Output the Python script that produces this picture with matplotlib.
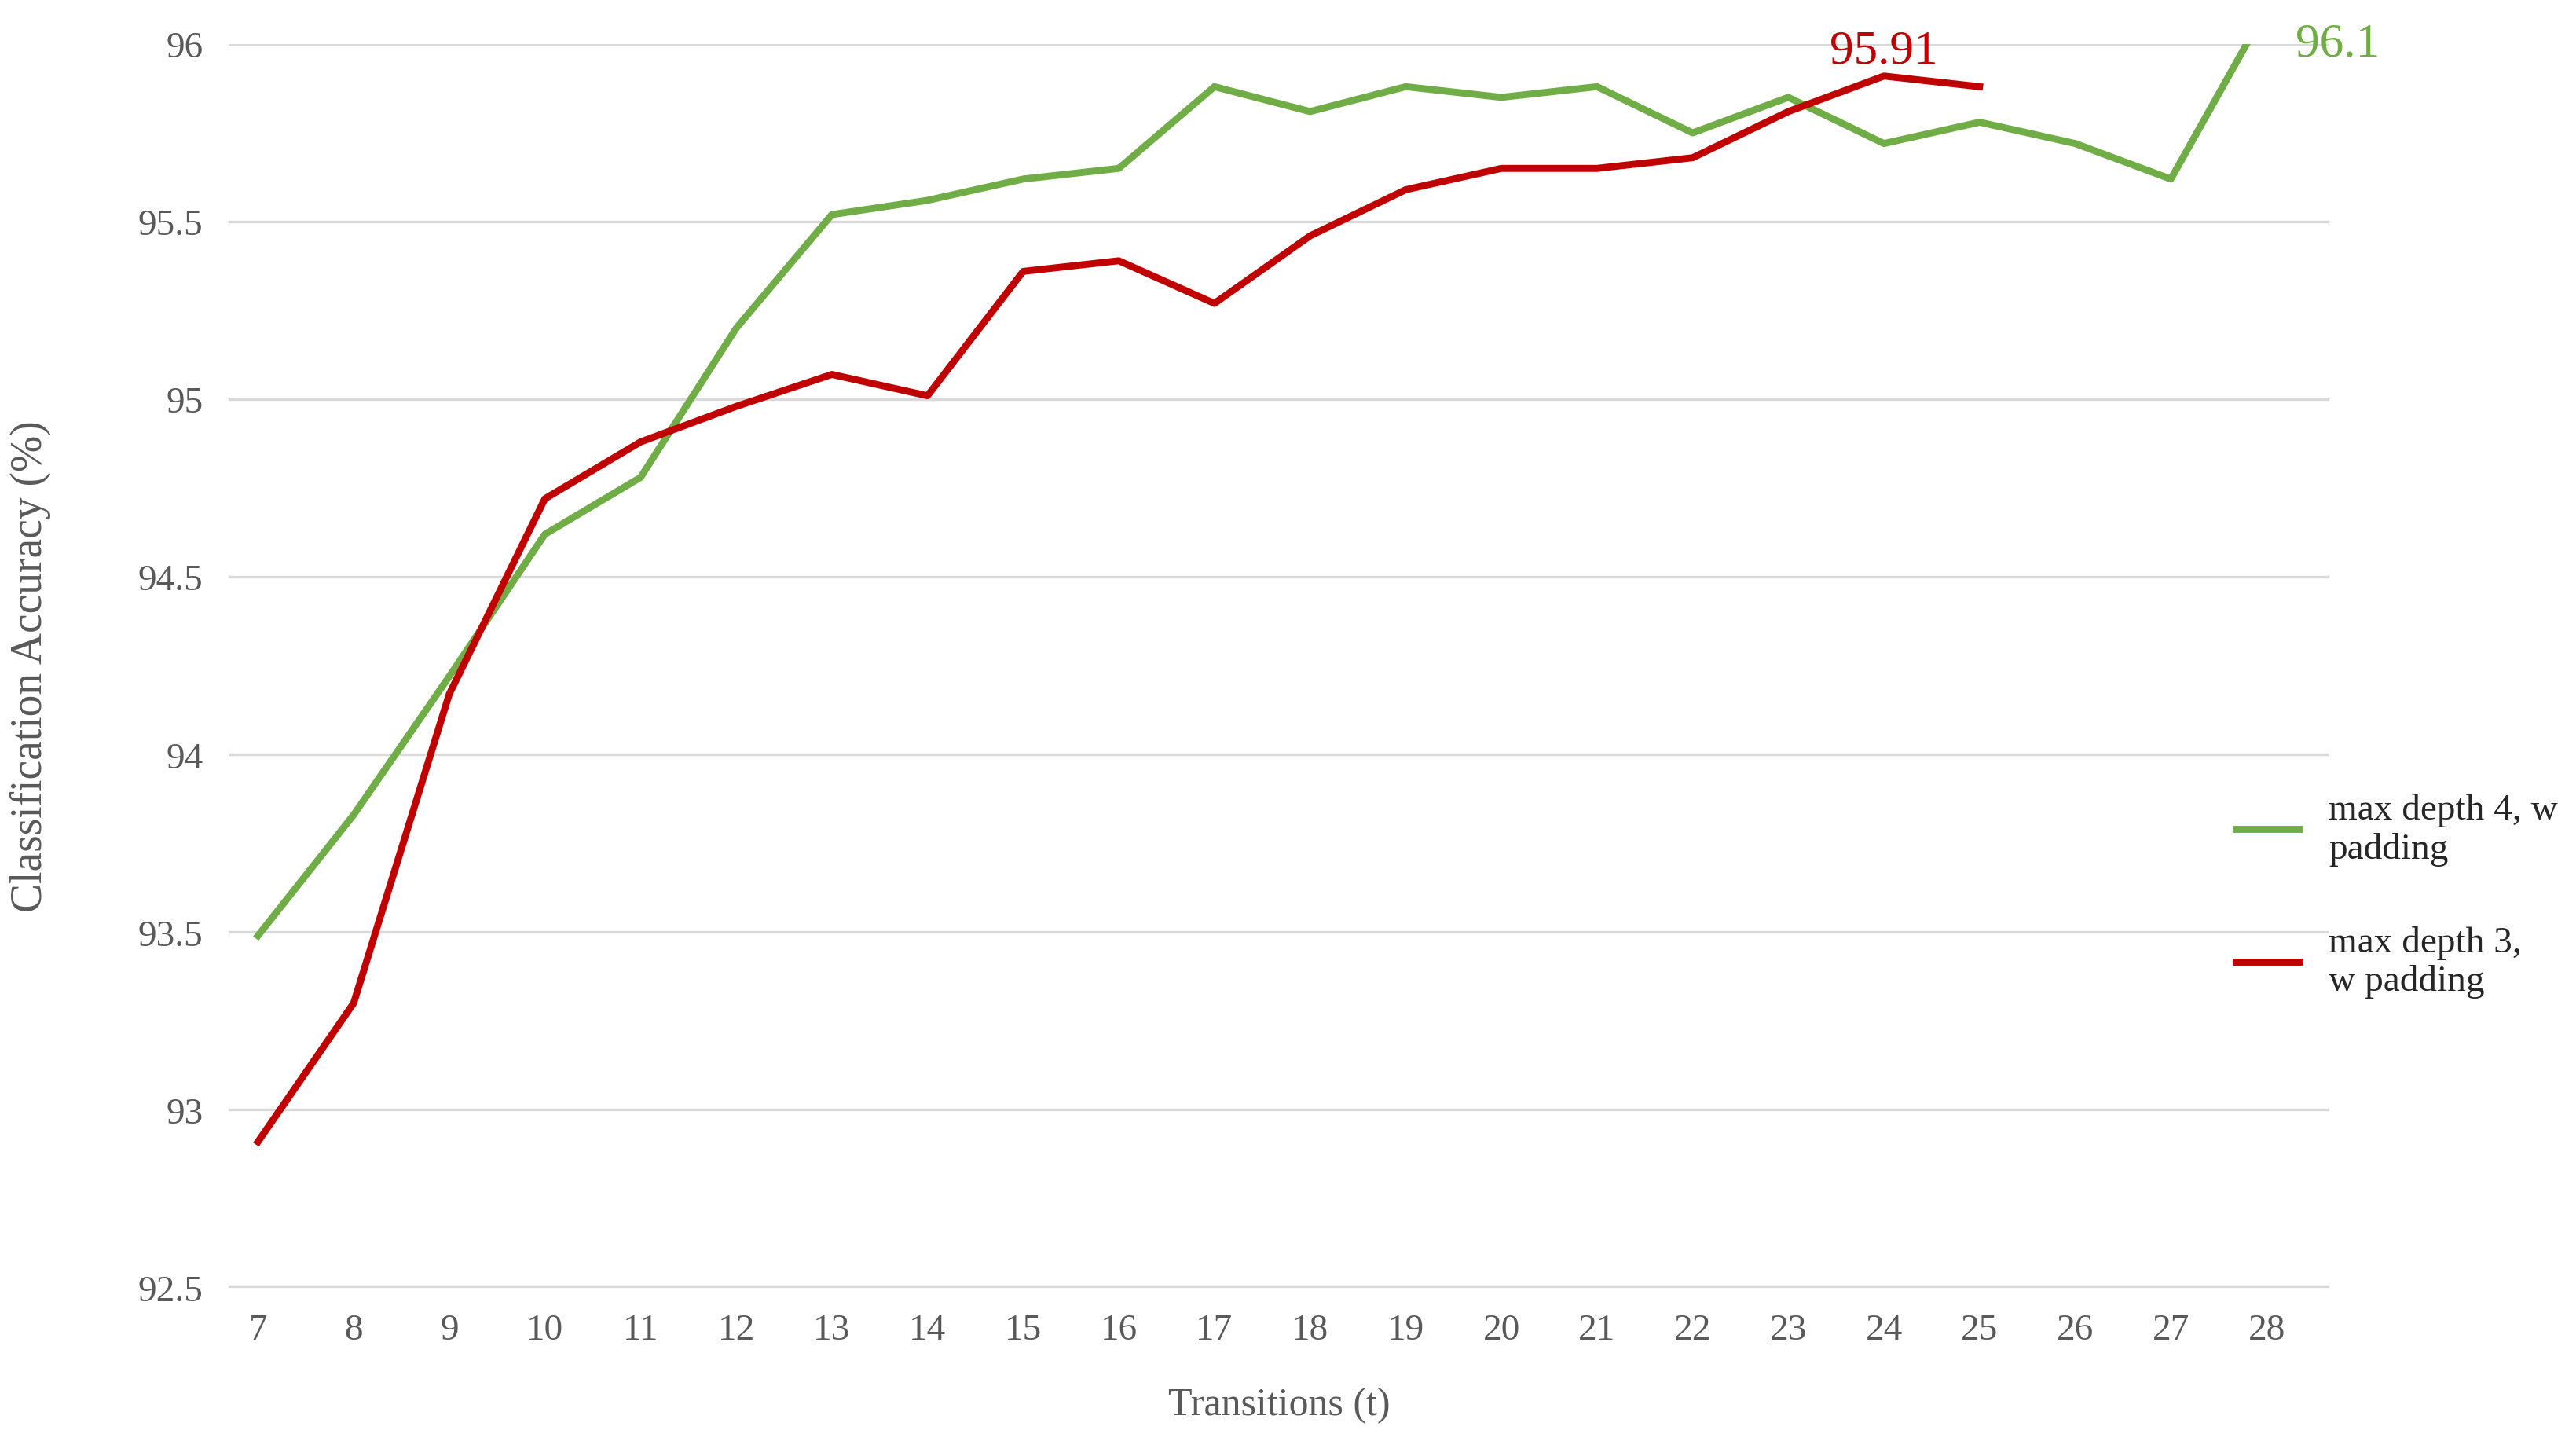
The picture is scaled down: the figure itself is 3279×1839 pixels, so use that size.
import matplotlib.pyplot as plt

plt.rcParams['font.family'] = ['Liberation Serif', 'DejaVu Serif']

transitions = list(range(7, 29))
depth4 = [93.49, 93.83, 94.22, 94.62, 94.78, 95.20, 95.52, 95.56, 95.62, 95.65, 95.88,
          95.81, 95.88, 95.85, 95.88, 95.75, 95.85, 95.72, 95.78, 95.72, 95.62, 96.10]
t3 = list(range(7, 26))
depth3 = [92.91, 93.30, 94.17, 94.72, 94.88, 94.98, 95.07, 95.01, 95.36, 95.39, 95.27,
          95.46, 95.59, 95.65, 95.65, 95.68, 95.81, 95.91, 95.88]

green = '#70ad47'
red = '#c00000'

fig = plt.figure(figsize=(16.395, 9.2), dpi=200)
ax = fig.add_axes([0.089, 0.109, 0.815, 0.86])

ax.plot(transitions, depth4, color=green, lw=3.2, label='max depth 4, w\npadding')
ax.plot(t3, depth3, color=red, lw=3.2, label='max depth 3,\nw padding')

ax.set_xlim(6.7, 28.65)
ax.set_ylim(92.5, 96)
ax.set_yticks([92.5, 93, 93.5, 94, 94.5, 95, 95.5, 96])
ax.set_yticklabels(['92.5', '93', '93.5', '94', '94.5', '95', '95.5', '96'])
ax.set_xticks(transitions)
ax.grid(axis='y', color='#d9d9d9', lw=1.2)
ax.set_axisbelow(True)
for s in ['top', 'right', 'left']:
    ax.spines[s].set_visible(False)
ax.spines['bottom'].set_color('#d9d9d9')
ax.tick_params(length=0, labelsize=17, colors='#595959', pad=12)

ax.set_xlabel('Transitions (t)', fontsize=18, color='#595959', labelpad=18)
ax.set_ylabel('Classification Accuracy (%)', fontsize=20, color='#595959', labelpad=40)

ax.text(28.3, 96.0, '96.1', color=green, fontsize=22, va='center', ha='left', clip_on=False)
ax.text(24, 95.92, '95.91', color=red, fontsize=22, va='bottom', ha='center')

leg = fig.legend(loc='center left', bbox_to_anchor=(0.855, 0.38), frameon=False,
                 fontsize=17, handlelength=1.7, handletextpad=0.8, labelspacing=1.6)
for t in leg.get_texts():
    t.set_color('#262626')

fig.savefig('out.png', dpi=200)
